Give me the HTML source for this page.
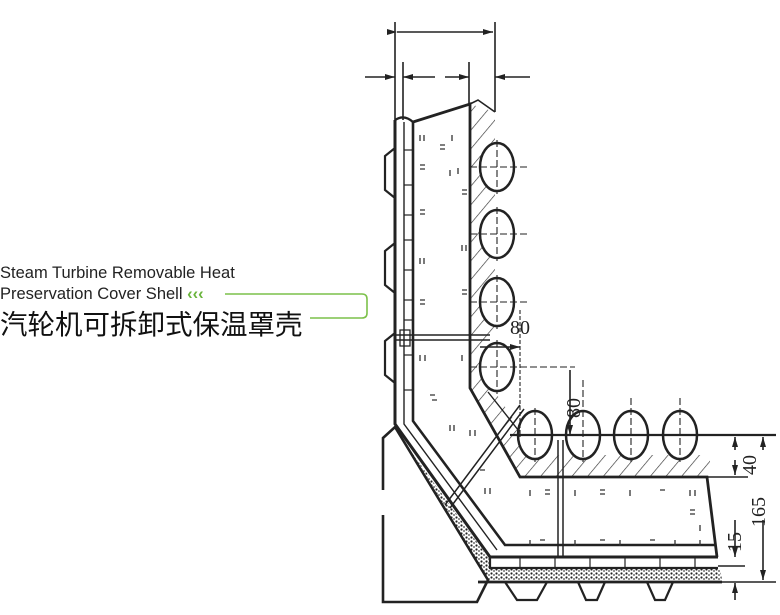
<!DOCTYPE html>
<html><head><meta charset="utf-8"><style>
html,body{margin:0;padding:0;background:#fff;}
svg{display:block;}
</style></head><body>
<svg width="780" height="615" viewBox="0 0 780 615" xmlns="http://www.w3.org/2000/svg">
<defs>
<marker id="ar" markerWidth="10" markerHeight="8" refX="10" refY="4" orient="auto" markerUnits="userSpaceOnUse"><path d="M0,1 L10,4 L0,7 Z" fill="#222"/></marker>
<pattern id="hatch" width="12" height="12" patternUnits="userSpaceOnUse" patternTransform="rotate(40)"><line x1="0" y1="0" x2="0" y2="12" stroke="#333" stroke-width="1.3"/></pattern>
<pattern id="dots" width="5" height="4" patternUnits="userSpaceOnUse"><circle cx="1.5" cy="1.5" r="1.1" fill="#222"/><circle cx="4" cy="3" r="0.9" fill="#444"/></pattern>
</defs>
<g font-family="Liberation Sans, sans-serif">
<text x="0" y="278" font-size="16.5" fill="#222">Steam Turbine Removable Heat</text>
<text x="0" y="299" font-size="16.5" fill="#222">Preservation Cover Shell <tspan fill="#6ab43c" font-weight="bold">‹‹‹</tspan></text>
<text x="0" y="334" font-size="27.5" fill="#111" font-family="Liberation Sans, Noto Sans CJK SC, sans-serif">汽轮机可拆卸式保温罩壳</text>
</g>
<path d="M225,294 H362 Q367,294 367,299 V313 Q367,318 362,318 H310" fill="none" stroke="#7cc14a" stroke-width="1.6"/>

<g stroke="#222" fill="none" stroke-width="1.6">
<!-- top dims -->
<line x1="395" y1="22" x2="395" y2="120"/>
<line x1="495" y1="22" x2="495" y2="112"/>
<line x1="397" y1="32" x2="493" y2="32" marker-end="url(#ar)" marker-start="url(#ar)"/>
<line x1="403" y1="62" x2="403" y2="120"/>
<line x1="469" y1="62" x2="469" y2="104"/>
<line x1="365" y1="77" x2="395" y2="77" marker-end="url(#ar)"/>
<line x1="435" y1="77" x2="403" y2="77" marker-end="url(#ar)"/>
<line x1="445" y1="77" x2="469" y2="77" marker-end="url(#ar)"/>
<line x1="530" y1="77" x2="495" y2="77" marker-end="url(#ar)"/>

<!-- hatched layer -->
<path d="M470,104 L495,112 V392 L538,455 H710 V477 H520 L470,388 Z" fill="url(#hatch)" stroke="none"/>

<!-- dotted layer -->
<path d="M410,450 L490,560 L491,568 H720 L722,580 H488 Z" fill="url(#dots)" stroke="none"/>

<!-- outer shell -->
<path d="M395,120 V424 L490,557 H718" stroke-width="3"/>
<path d="M404,122 V424 L497,550" stroke-width="1.4"/>
<path d="M413,122 V421 L505,545 H715" stroke-width="2.6"/>
<path d="M395,120 Q404,114 413,122" stroke-width="2.4"/>
<g stroke-width="1.2">
<line x1="404" y1="150" x2="413" y2="150"/><line x1="404" y1="185" x2="413" y2="185"/><line x1="404" y1="215" x2="413" y2="215"/><line x1="404" y1="240" x2="413" y2="240"/><line x1="404" y1="270" x2="413" y2="270"/><line x1="404" y1="300" x2="413" y2="300"/><line x1="404" y1="320" x2="413" y2="320"/><line x1="404" y1="355" x2="413" y2="355"/><line x1="404" y1="390" x2="413" y2="390"/>
<line x1="520" y1="557" x2="520" y2="568"/><line x1="555" y1="557" x2="555" y2="568"/><line x1="590" y1="557" x2="590" y2="568"/><line x1="625" y1="557" x2="625" y2="568"/><line x1="660" y1="557" x2="660" y2="568"/><line x1="695" y1="557" x2="695" y2="568"/>
</g>
<!-- insulation -->
<path d="M413,122 L470,104 V388 L520,477 H707 L717,557" stroke-width="2.8"/>
<path d="M470,104 L478,100 L495,112" stroke-width="1.6"/>
<path d="M488,392 L538,455" stroke-width="1.4"/>
<path d="M490,557 L490,568 H718" stroke-width="2.2"/>
<path d="M478,582 H722" stroke-width="2.8"/>
<!-- left block -->
<path d="M383,515 V602 H477 L488,580 L395,427 L383,438 V490" stroke-width="2.6"/>
<!-- bumps -->
<path d="M395,148 L385,156 V190 L395,198" stroke-width="2.2"/>
<path d="M395,243 L385,251 V285 L395,293" stroke-width="2.2"/>
<path d="M395,333 L385,341 V375 L395,383" stroke-width="2.2"/>
<path d="M505,582 L517,600 H537 L547,582" stroke-width="2.2"/>
<path d="M578,582 L586,600 H597 L605,582" stroke-width="2.2"/>
<path d="M647,582 L655,600 H665 L673,582" stroke-width="2.2"/>
<!-- rods -->
<path d="M395,335 H490 M395,340 H490" stroke-width="1.6"/>
<path d="M400,330 H410 V346 H400 Z" stroke-width="1.3"/>
<path d="M445,505 L520,405 M450,508 L524,409" stroke-width="1.5"/>
<path d="M558,440 V557 M563,440 V557" stroke-width="1.5"/>
<!-- pipes -->
<g stroke-width="2.5" fill="#fff">
<ellipse cx="497" cy="167" rx="17" ry="24"/>
<ellipse cx="497" cy="234" rx="17" ry="24"/>
<ellipse cx="497" cy="302" rx="17" ry="24"/>
<ellipse cx="497" cy="367" rx="17" ry="24"/>
<ellipse cx="535" cy="435" rx="17" ry="24"/>
<ellipse cx="583" cy="435" rx="17" ry="24"/>
<ellipse cx="631" cy="435" rx="17" ry="24"/>
<ellipse cx="680" cy="435" rx="17" ry="24"/>
</g>
<g stroke-width="1.1" stroke-dasharray="7,3">
<line x1="470" y1="167" x2="528" y2="167"/><line x1="497" y1="140" x2="497" y2="194"/>
<line x1="470" y1="234" x2="528" y2="234"/><line x1="497" y1="207" x2="497" y2="261"/>
<line x1="470" y1="302" x2="528" y2="302"/><line x1="497" y1="275" x2="497" y2="329"/>
<line x1="470" y1="367" x2="575" y2="367"/><line x1="497" y1="340" x2="497" y2="394"/>
<line x1="535" y1="408" x2="535" y2="462"/><line x1="583" y1="380" x2="583" y2="462"/>
<line x1="631" y1="398" x2="631" y2="462"/><line x1="680" y1="398" x2="680" y2="462"/>
</g>
<line x1="520" y1="310" x2="520" y2="437" stroke-dasharray="4,2" stroke-width="1.1"/>
<line x1="510" y1="435" x2="776" y2="435" stroke-width="2.2"/>
<line x1="707" y1="477" x2="748" y2="477" stroke-width="1.5"/>
<!-- dims -->
<line x1="480" y1="347" x2="520" y2="347" marker-end="url(#ar)"/>
<line x1="570" y1="370" x2="570" y2="435" marker-end="url(#ar)"/>
<line x1="735" y1="450" x2="735" y2="437" marker-end="url(#ar)"/>
<line x1="735" y1="460" x2="735" y2="475" marker-end="url(#ar)"/>
<line x1="763" y1="450" x2="763" y2="437" marker-end="url(#ar)"/>
<line x1="763" y1="520" x2="763" y2="580" marker-end="url(#ar)"/>
<line x1="735" y1="520" x2="735" y2="557" marker-end="url(#ar)"/>
<line x1="735" y1="600" x2="735" y2="583" marker-end="url(#ar)"/>
<line x1="718" y1="566" x2="745" y2="566"/>
<line x1="722" y1="582" x2="776" y2="582"/>
</g>
<g font-family="Liberation Serif, serif" fill="#222" font-size="20">
<text x="510" y="334">80</text>
<text transform="translate(580,418) rotate(-90)">80</text>
<text transform="translate(756,475) rotate(-90)">40</text>
<text transform="translate(765,527) rotate(-90)">165</text>
<text transform="translate(741,552) rotate(-90)">15</text>
</g>
<g stroke="#333" stroke-width="1.3">
<path d="M420,135 v6 M424,135 v6 M440,145 h5 M440,149 h5 M452,135 v6 M420,165 h5 M420,169 h5 M450,170 v6 M458,168 v6 M462,190 h5 M462,194 h5 M420,210 h5 M420,214 h5 M462,245 v6 M466,245 v6 M420,258 v6 M424,258 v6 M462,290 h5 M462,294 h5 M420,300 h5 M420,304 h5 M462,355 v6 M420,355 v6 M425,355 v6 M430,395 h5 M432,400 h5 M450,425 v6 M454,425 v6 M470,430 v6 M475,430 v6 M480,470 h5 M485,488 v6 M490,488 v6 M530,490 v6 M545,490 h5 M545,494 h5 M575,490 v6 M600,490 h5 M600,494 h5 M630,490 v6 M660,490 h5 M690,490 v6 M695,490 v6 M530,540 v6 M540,540 h5 M575,540 v6 M600,540 h5 M620,540 v6 M650,540 h5 M675,540 v6 M700,540 v6 M690,510 h5 M690,514 h5 M700,525 v6"/>
</g>
</svg>
</body></html>
